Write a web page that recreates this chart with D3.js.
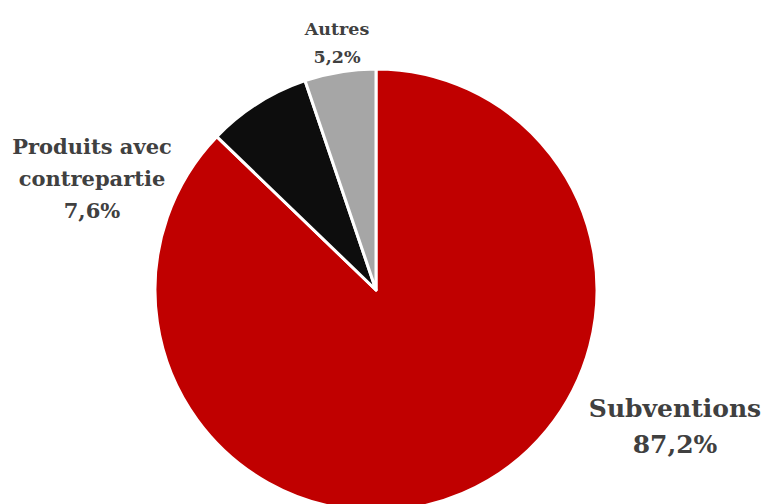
<!DOCTYPE html>
<html>
<head>
<meta charset="utf-8">
<script src="https://cdn.jsdelivr.net/npm/d3@7"></script>
<style>
  body { margin: 0; background: #fff; }
  svg { display: block; }
  .lbl { font-family: "DejaVu Serif", serif; font-weight: bold; fill: #404040; text-anchor: middle; }
</style>
</head>
<body>
<div id="chart"></div>
<script>
// Données
const categories = ["Subventions", "Produits avec contrepartie", "Autres"];
const values = [87.2, 7.6, 5.2];
const colors = ["#c00000", "#0d0d0d", "#a6a6a6"];

const width = 763, height = 504;
const cx = 376, cy = 290, radius = 221;

const svg = d3.select("#chart").append("svg")
  .attr("width", width)
  .attr("height", height);

const data = categories.map((c, i) => ({ name: c, value: values[i], color: colors[i] }));

const pie = d3.pie().sort(null).value(d => d.value);
const arc = d3.arc().innerRadius(0).outerRadius(radius);

const g = svg.append("g").attr("transform", `translate(${cx},${cy})`);

g.selectAll("path")
  .data(pie(data))
  .enter()
  .append("path")
  .attr("d", arc)
  .attr("fill", d => d.data.color)
  .attr("stroke", "#fff")
  .attr("stroke-width", 3)
  .attr("stroke-linejoin", "round");

// Étiquettes (placement à la Excel, décalage depuis le centre)
const labelLayout = [
  { dx: 299, dy: 127, size: 25, lines: ["Subventions"], gap: 36 },
  { dx: -284, dy: -136, size: 21, lines: ["Produits avec", "contrepartie"], gap: 32 },
  { dx: -39, dy: -255, size: 17.5, lines: ["Autres"], gap: 28 }
];

const fmt = v => v.toFixed(1).replace(".", ",") + "%";

data.forEach((d, i) => {
  const L = labelLayout[i];
  const t = g.append("text")
    .attr("class", "lbl")
    .attr("x", L.dx)
    .attr("y", L.dy)
    .style("font-size", L.size + "px");
  const lines = L.lines.concat([fmt(d.value)]);
  lines.forEach((s, j) => {
    t.append("tspan")
      .attr("x", L.dx)
      .attr("dy", j === 0 ? 0 : L.gap)
      .text(s);
  });
});
</script>
</body>
</html>
